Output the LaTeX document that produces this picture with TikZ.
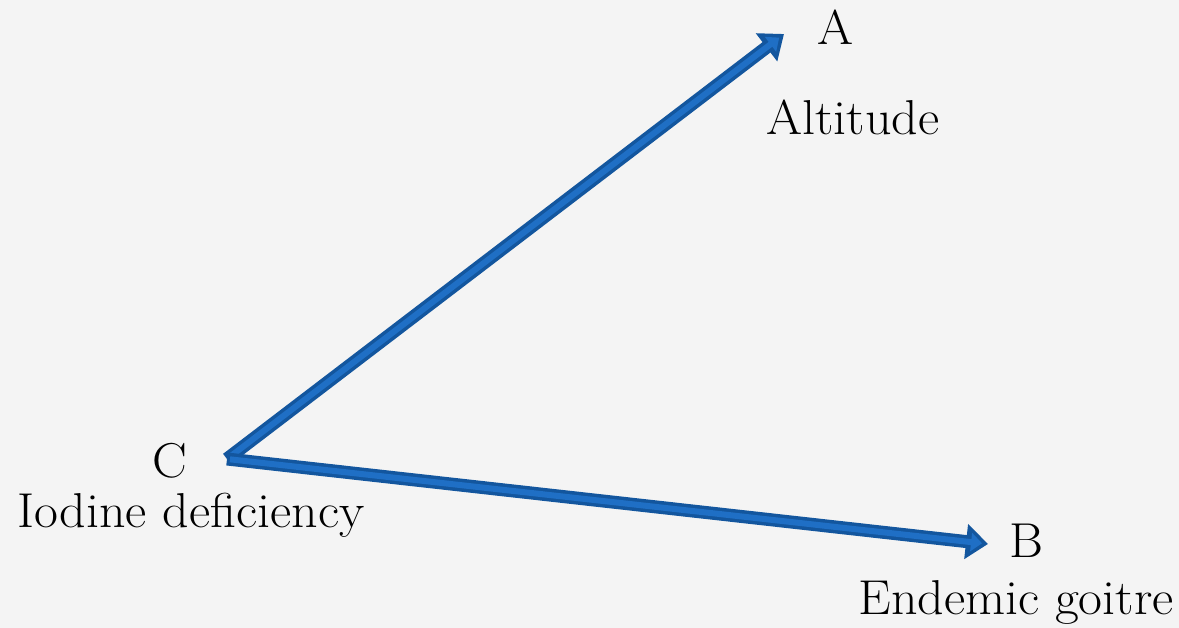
\documentclass[tikz,border=0pt]{standalone}
\usepackage{fontspec}
\setmainfont[FakeStretch=1.06]{Latin Modern Roman}
\usepackage{tikz}
\usetikzlibrary{arrows.meta,positioning}
\definecolor{bg}{HTML}{F4F4F4}
\definecolor{arout}{HTML}{13569E}
\definecolor{arin}{HTML}{1F6FC5}
\tikzset{
  lbl/.style={anchor=base,inner sep=0pt,font=\fontsize{49}{55}\selectfont},
  arback/.style={draw=arout,line width=13pt,-{Triangle[length=22pt,width=34pt]}},
  arfront/.style={draw=arin,line width=6pt,shorten <=3pt,shorten >=6pt,-{Triangle[length=11pt,width=18pt]}},
}

\begin{document}
\begin{tikzpicture}[x=1pt,y=-1pt]
\fill[bg] (0,0) rectangle (1179,628);
\useasboundingbox (0,0) rectangle (1179,628);
% end points of the arrows
\coordinate (c) at (227,459);
\coordinate (a) at (784,34);
\coordinate (b) at (988,544);
% labels
\node[lbl] (la) at (835,45) {A};
\node[lbl] (lalt) at (853,135) {Altitude};
\node[lbl] (lc) at (170,478) {C};
\node[lbl] (lio) at (191,527) {Iodine deficiency};
\node[lbl] (lb) at (1026,557) {B};
\node[lbl] (lend) at (1016,614) {Endemic goitre};
% arrows
\draw[arback] (c)--(a); \draw[arfront] (c)--(a);
\draw[arback] (c)--(b); \draw[arfront] (c)--(b);
\end{tikzpicture}
\end{document}
